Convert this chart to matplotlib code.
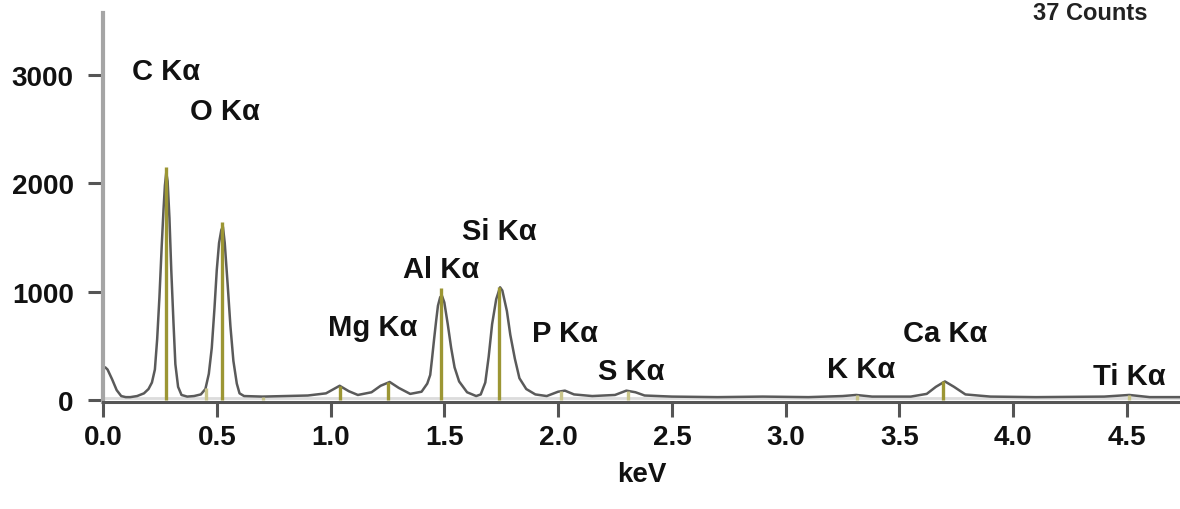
import matplotlib
matplotlib.use("Agg")
import matplotlib.pyplot as plt

# ---- spectrum (keV, counts) ----
energy = [0.00, 0.01, 0.02, 0.04, 0.06, 0.08, 0.10, 0.12, 0.15, 0.18, 0.20, 0.215,
          0.228, 0.238, 0.248, 0.258, 0.266, 0.272, 0.278, 0.284, 0.292, 0.300,
          0.310, 0.318, 0.330, 0.345, 0.37, 0.40, 0.43, 0.450, 0.465, 0.478, 0.490,
          0.500, 0.510, 0.520, 0.527, 0.535, 0.548, 0.560, 0.573, 0.588, 0.60, 0.62,
          0.70, 0.80, 0.90, 0.98, 1.04, 1.08, 1.12, 1.18, 1.22, 1.26, 1.30, 1.35,
          1.40, 1.425, 1.438, 1.446, 1.455, 1.464, 1.472, 1.482, 1.49, 1.50, 1.515,
          1.53, 1.545, 1.565, 1.60, 1.64, 1.66, 1.68, 1.695, 1.71, 1.728, 1.745,
          1.755, 1.775, 1.79, 1.81, 1.83, 1.86, 1.90, 1.95, 2.00, 2.03, 2.07, 2.15,
          2.25, 2.30, 2.34, 2.38, 2.5, 2.7, 2.9, 3.1, 3.25, 3.31, 3.38, 3.55, 3.62,
          3.66, 3.70, 3.74, 3.79, 3.9, 4.1, 4.4, 4.51, 4.6, 4.73]
counts = [290, 300, 280, 190, 90, 35, 25, 25, 35, 60, 100, 160,
          280, 560, 950, 1420, 1760, 1980, 2100, 2020, 1680, 1200,
          700, 330, 120, 45, 30, 35, 50, 100, 240, 480, 850,
          1200, 1450, 1570, 1600, 1450, 1060, 680, 360, 150, 60, 35,
          30, 35, 40, 60, 130, 80, 45, 70, 130, 165, 110, 55,
          75, 150, 230, 380, 560, 730, 870, 950, 960, 900, 700,
          480, 300, 170, 70, 35, 50, 160, 400, 700, 930, 1040,
          1010, 820, 600, 380, 200, 100, 50, 35, 75, 85, 50, 35,
          45, 85, 70, 40, 30, 25, 30, 25, 35, 45, 30, 30, 55,
          120, 170, 120, 50, 30, 25, 30, 45, 25, 25]

# ---- element marker lines ----
line_energy = [0.277, 0.452, 0.525, 0.705, 1.041, 1.254, 1.486, 1.740, 2.013, 2.307, 3.313, 3.690, 4.510]
line_height = [2150, 110, 1640, 30, 130, 165, 1030, 1045, 85, 85, 45, 170, 45]
line_strong = [True, False, True, False, True, True, True, True, False, False, False, True, False]

# ---- peak labels ----
label_text = ["C Kα", "O Kα", "Mg Kα", "Al Kα", "Si Kα", "P Kα", "S Kα", "K Kα", "Ca Kα", "Ti Kα"]
label_x = [0.277, 0.535, 1.185, 1.486, 1.740, 2.030, 2.320, 3.330, 3.700, 4.510]
label_y = [3040, 2665, 670, 1210, 1560, 620, 268, 285, 620, 220]

yticks = [0, 1000, 2000, 3000]
xticks = [0.0, 0.5, 1.0, 1.5, 2.0, 2.5, 3.0, 3.5, 4.0, 4.5]

FONT = ["Liberation Sans", "DejaVu Sans"]

fig = plt.figure(figsize=(11.8, 5.1), dpi=100)
ax = fig.add_axes([103 / 1180, 107 / 510, 1 - 103 / 1180, 389 / 510])
ax.set_xlim(0, 4.733)
ax.set_ylim(-20, 3575)

ax.axhline(18, color="#dcdcdc", lw=2.0, zorder=1)
ax.plot(energy, counts, color="#5a5a5a", lw=1.8, zorder=2)

strong_e = [e for e, s in zip(line_energy, line_strong) if s]
strong_h = [h for h, s in zip(line_height, line_strong) if s]
weak_e = [e for e, s in zip(line_energy, line_strong) if not s]
weak_h = [h for h, s in zip(line_height, line_strong) if not s]
ax.vlines(strong_e, 0, strong_h, color="#9c9634", lw=2.4, zorder=3)
ax.vlines(weak_e, 0, weak_h, color="#c9c58a", lw=2.4, zorder=3)

for t, x, y in zip(label_text, label_x, label_y):
    ax.text(x, y, t, ha="center", va="center", fontsize=21, fontweight="bold",
            family=FONT, color="#111111")

for side in ["top", "right"]:
    ax.spines[side].set_visible(False)
ax.spines["left"].set_color("#a5a5a5")
ax.spines["left"].set_linewidth(3)
ax.spines["bottom"].set_color("#555555")
ax.spines["bottom"].set_linewidth(2.2)
ax.spines["left"].set_bounds(-20, 3575)

ax.set_xticks(xticks)
ax.set_xticklabels([f"{v:.1f}" for v in xticks])
ax.set_yticks(yticks)
ax.set_yticklabels([str(v) for v in yticks])
ax.tick_params(axis="both", direction="out", length=11, width=2.2, color="#555555",
               labelsize=20, labelcolor="#111111")
ax.tick_params(axis="x", pad=5)
ax.tick_params(axis="y", pad=10)
for lab in ax.get_xticklabels() + ax.get_yticklabels():
    lab.set_fontweight("bold")
    lab.set_family(FONT)

ax.set_xlabel("keV", fontsize=20, fontweight="bold", family=FONT, labelpad=8, color="#111111")

fig.text(1090 / 1180, 1 - 2 / 510, "37 Counts", ha="center", va="top",
         fontsize=17, fontweight="bold", family=FONT, color="#222222")

fig.savefig("out.png", dpi=100, facecolor="white")
